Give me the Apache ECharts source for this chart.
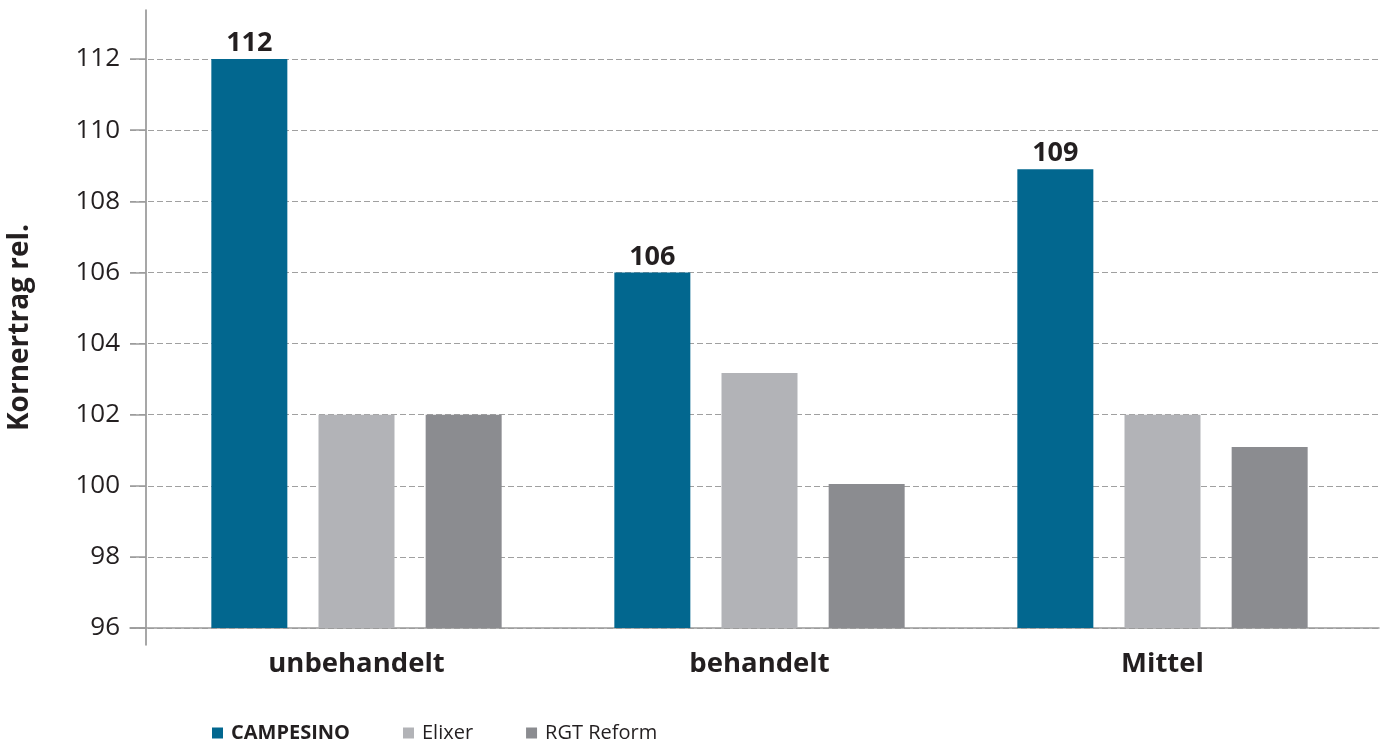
<!DOCTYPE html>
<html>
<head>
<meta charset="utf-8">
<script src="https://cdn.jsdelivr.net/npm/echarts@6/dist/echarts.min.js"></script>
<style>
  html, body { margin: 0; padding: 0; background: #fff; }
  #chart { width: 1384px; height: 742px; }
</style>
</head>
<body>
<div id="chart"></div>
<script>
// data
const categories = ['unbehandelt', 'behandelt', 'Mittel']
const campesino = [112, 106, 108.9]
const elixer = [102, 103.17, 102]
const rgtReform = [102, 100.05, 101.09]

const yMin = 96
const yMax = 112
const yStep = 2

const textColor = '#231f20'
const font = '"Open Sans", "Noto Sans", sans-serif'

const chart = echarts.init(document.getElementById('chart'))

const option = {
  backgroundColor: '#fff',
  textStyle: { fontFamily: font, color: textColor },
  grid: [
    // bars
    { left: 155, right: 20, top: 59, bottom: 114 },
    // grid lines and y labels
    { left: 130, right: 5, top: 59, bottom: 114 },
    // long y axis line
    { left: 146, width: 1, top: 10, bottom: 97 }
  ],
  legend: {
    left: 207,
    top: 718,
    itemWidth: 11,
    itemHeight: 11,
    itemGap: 53,
    icon: 'rect',
    data: ['CAMPESINO', 'Elixer', 'RGT Reform'],
    formatter(name) {
      return name === 'CAMPESINO' ? '{b|' + name + '}' : name
    },
    textStyle: {
      fontFamily: font,
      fontSize: 20,
      color: textColor,
      padding: [0, 0, 0, 3],
      rich: {
        b: { fontFamily: font, fontSize: 20, fontWeight: 'bold', color: textColor }
      }
    }
  },
  xAxis: [
    {
      gridIndex: 0,
      type: 'category',
      data: categories,
      axisLine: { show: false },
      axisTick: { show: false },
      axisLabel: {
        margin: 22,
        fontFamily: font,
        fontSize: 27.5,
        fontWeight: 'bold',
        color: textColor
      }
    },
    {
      gridIndex: 1,
      type: 'value',
      min: 0,
      max: 1,
      axisLine: { show: true, lineStyle: { color: '#9a9a9a', width: 1.5 } },
      axisTick: { show: false },
      axisLabel: { show: false },
      splitLine: { show: false }
    },
    {
      gridIndex: 2,
      type: 'value',
      show: false
    }
  ],
  yAxis: [
    {
      gridIndex: 0,
      type: 'value',
      min: yMin,
      max: yMax,
      interval: yStep,
      show: false
    },
    {
      gridIndex: 1,
      type: 'value',
      min: yMin,
      max: yMax,
      interval: yStep,
      axisLine: { show: false },
      axisTick: {
        show: true,
        inside: true,
        length: 16,
        lineStyle: { color: '#9a9a9a', width: 1.5 }
      },
      axisLabel: {
        margin: 10,
        fontFamily: font,
        fontSize: 26,
        color: textColor
      },
      splitLine: {
        show: true,
        lineStyle: { color: '#a0a0a0', type: [6, 3], width: 1.2 }
      }
    },
    {
      gridIndex: 2,
      type: 'value',
      min: 0,
      max: 1,
      name: 'Kornertrag rel.',
      nameLocation: 'middle',
      nameGap: 112,
      nameRotate: 90,
      nameTextStyle: {
        fontFamily: font,
        fontSize: 28,
        fontWeight: 'bold',
        color: textColor
      },
      axisLine: { show: true, lineStyle: { color: '#8a8a8a', width: 1.5 } },
      axisTick: { show: false },
      axisLabel: { show: false },
      splitLine: { show: false }
    }
  ],
  series: [
    {
      name: 'CAMPESINO',
      type: 'bar',
      xAxisIndex: 0,
      yAxisIndex: 0,
      barWidth: 76,
      barGap: '41%',
      itemStyle: { color: '#02678f' },
      label: {
        show: true,
        position: 'top',
        distance: 2,
        fontFamily: font,
        fontSize: 27,
        fontWeight: 'bold',
        color: textColor,
        formatter(p) {
          return Math.round(p.value)
        }
      },
      data: campesino,
      z: 3
    },
    {
      name: 'Elixer',
      type: 'bar',
      xAxisIndex: 0,
      yAxisIndex: 0,
      barWidth: 76,
      barGap: '41%',
      itemStyle: { color: '#b2b3b7' },
      data: elixer,
      z: 3
    },
    {
      name: 'RGT Reform',
      type: 'bar',
      xAxisIndex: 0,
      yAxisIndex: 0,
      barWidth: 76,
      barGap: '41%',
      itemStyle: { color: '#8b8c90' },
      data: rgtReform,
      z: 3
    }
  ]
}

chart.setOption(option)
</script>
</body>
</html>
